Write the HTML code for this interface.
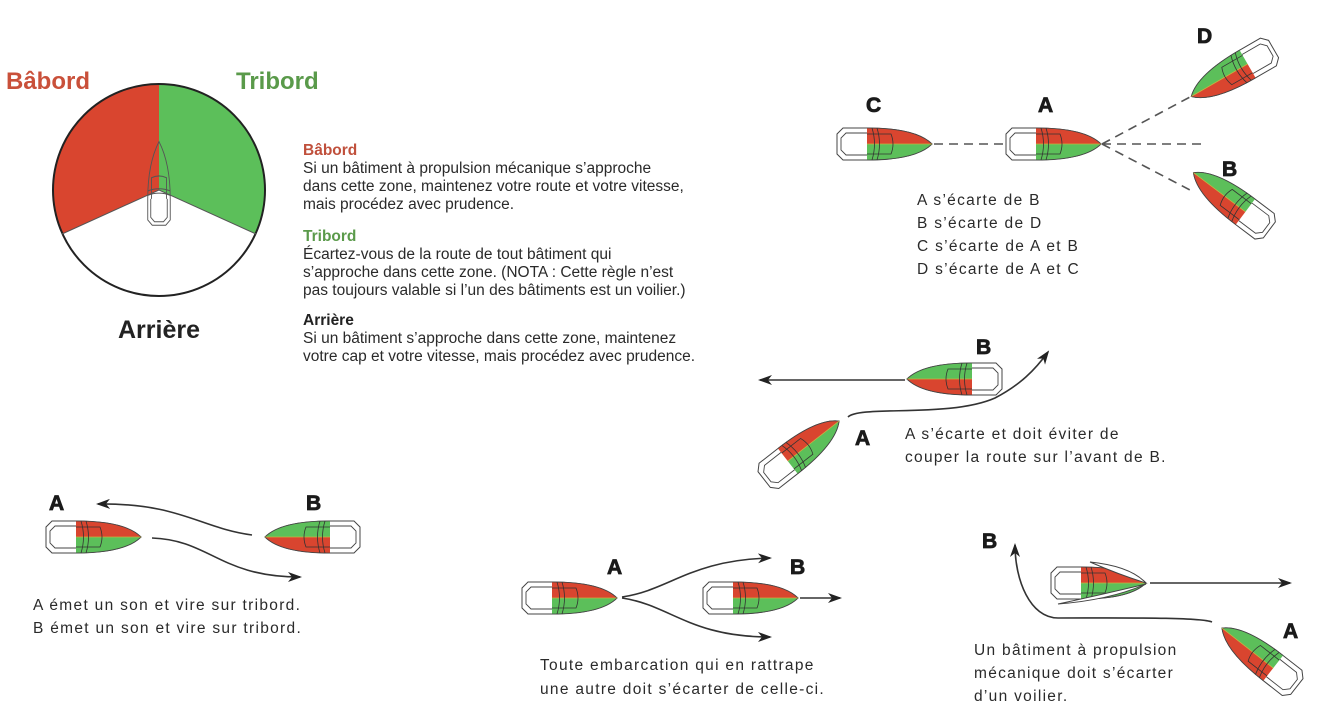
<!DOCTYPE html>
<html><head><meta charset="utf-8"><style>
html,body{margin:0;padding:0;background:#fff;}
svg{display:block;}
text{font-family:"Liberation Sans",Arial,sans-serif;}
.t{font-size:15.5px;fill:#2a2a2a;letter-spacing:0px;}
.c{font-size:15.5px;fill:#2a2a2a;letter-spacing:1.3px;}
.L{font-size:21px;font-weight:bold;fill:#1a1a1a;stroke:#1a1a1a;stroke-width:0.8;}
.ln{fill:none;stroke:#333;stroke-width:1.6;}
</style></head><body>
<svg width="1341" height="726" viewBox="0 0 1341 726" xmlns="http://www.w3.org/2000/svg">
<defs>
<marker id="ar" viewBox="0 0 14 10" refX="12" refY="5" markerWidth="14" markerHeight="10" markerUnits="userSpaceOnUse" orient="auto">
<path d="M0,0 L14,5 L0,10 L4,5 Z" fill="#222"/></marker>
<g id="boat">
<path d="M-48,-10 L-42,-16 L-18,-16 C20,-16 38,-9 47,0 C38,9 20,16 -18,16 L-42,16 L-48,10 Z" fill="#fff" stroke="#444" stroke-width="1"/>
<path d="M-18,-16 C20,-16 38,-9 47,0 L-18,0 Z" fill="#d9452f"/>
<path d="M-18,16 C20,16 38,9 47,0 L-18,0 Z" fill="#5cbf5a"/>
<path d="M-18,-16 C20,-16 38,-9 47,0 C38,9 20,16 -18,16" fill="none" stroke="#444" stroke-width="0.8"/>
<line x1="-18" y1="0" x2="47" y2="0" stroke="#c8b040" stroke-width="0.8"/>
<path d="M-18,-11 L-39,-11 L-44,-6 L-44,6 L-39,11 L-18,11" fill="none" stroke="#444" stroke-width="0.9"/>
<path d="M-13,-16 Q-8,0 -13,16 M-8,-16 Q-3,0 -8,16" fill="none" stroke="#333" stroke-width="0.8"/>
<path d="M-18,-10 L6,-10 Q10,0 6,10 L-18,10" fill="none" stroke="#333" stroke-width="0.8"/>
</g>
</defs>

<!-- circle -->
<path d="M159,190 L159,84 A106,106 0 0 0 62,234 Z" fill="#d9452f"/>
<path d="M159,190 L159,84 A106,106 0 0 1 256,234 Z" fill="#5cbf5a"/>
<circle cx="159" cy="190" r="106" fill="none" stroke="#222" stroke-width="2"/>
<path d="M62,234 L159,190 L256,234" fill="none" stroke="#555" stroke-width="1"/>
<g transform="translate(159,183) rotate(-90) scale(0.88,0.75)">
<path d="M-48,-9 L-42,-15 L-18,-15 Q22,-15 47,0 Q22,15 -18,15 L-42,15 L-48,9 Z" fill="none" stroke="#555" stroke-width="1.2"/>
<path d="M-18,-11 L-39,-11 L-44,-6 L-44,6 L-39,11 L-18,11" fill="none" stroke="#555" stroke-width="1.2"/>
<path d="M-14,-15 Q-9,0 -14,15 M-9,-15 Q-4,0 -9,15" fill="none" stroke="#555" stroke-width="1.2"/>
<path d="M-18,-10 L6,-10 Q10,0 6,10 L-18,10" fill="none" stroke="#555" stroke-width="1.2"/>
</g>
<text x="6" y="89" style="font-size:24px;font-weight:bold;fill:#c9503a">Bâbord</text>
<text x="236" y="89" style="font-size:24px;font-weight:bold;fill:#5a9a4a">Tribord</text>
<text x="159" y="338" text-anchor="middle" style="font-size:25px;font-weight:bold;fill:#222">Arrière</text>

<text x="303" y="155" style="font-size:15.5px;font-weight:bold;fill:#c0503c">Bâbord</text>
<text class="t" x="303" y="173">Si un bâtiment à propulsion mécanique s’approche</text>
<text class="t" x="303" y="191">dans cette zone, maintenez votre route et votre vitesse,</text>
<text class="t" x="303" y="209">mais procédez avec prudence.</text>
<text x="303" y="241" style="font-size:15.5px;font-weight:bold;fill:#5a9a4a">Tribord</text>
<text class="t" x="303" y="259">Écartez-vous de la route de tout bâtiment qui</text>
<text class="t" x="303" y="277">s’approche dans cette zone. (NOTA : Cette règle n’est</text>
<text class="t" x="303" y="295">pas toujours valable si l’un des bâtiments est un voilier.)</text>
<text x="303" y="325" style="font-size:15.5px;font-weight:bold;fill:#222">Arrière</text>
<text class="t" x="303" y="343">Si un bâtiment s’approche dans cette zone, maintenez</text>
<text class="t" x="303" y="361">votre cap et votre vitesse, mais procédez avec prudence.</text>

<!-- top right -->
<path d="M934,144 L1005,144 M1102,144 L1205,144 M1102,144 L1190,97 M1102,144 L1190,190" stroke="#555" stroke-width="1.6" stroke-dasharray="9,6" fill="none"/>
<use href="#boat" transform="translate(885,144)"/>
<use href="#boat" transform="translate(1054,144)"/>
<use href="#boat" transform="translate(1232,73) rotate(150)"/>
<use href="#boat" transform="translate(1231,201) rotate(217)"/>
<text class="L" x="866" y="112">C</text>
<text class="L" x="1038" y="112">A</text>
<text class="L" x="1197" y="43">D</text>
<text class="L" x="1222" y="176">B</text>
<text class="c" x="917" y="205">A s’écarte de B</text>
<text class="c" x="917" y="228">B s’écarte de D</text>
<text class="c" x="917" y="251">C s’écarte de A et B</text>
<text class="c" x="917" y="274">D s’écarte de A et C</text>

<!-- middle -->
<line class="ln" x1="905" y1="380" x2="760" y2="380" marker-end="url(#ar)"/>
<path class="ln" d="M848,417 C860,405 950,418 995,398 C1020,385 1035,370 1048,352" marker-end="url(#ar)"/>
<use href="#boat" transform="translate(954,379) rotate(180)"/>
<use href="#boat" transform="translate(802,450) rotate(-38)"/>
<text class="L" x="976" y="354">B</text>
<text class="L" x="855" y="445">A</text>
<text class="c" x="905" y="439">A s’écarte et doit éviter de</text>
<text class="c" x="905" y="462">couper la route sur l’avant de B.</text>

<!-- bottom left -->
<use href="#boat" transform="translate(94,537)"/>
<use href="#boat" transform="translate(312,537) rotate(180)"/>
<path class="ln" d="M252,535 C200,528 180,503 98,504" marker-end="url(#ar)"/>
<path class="ln" d="M152,538 C210,540 220,577 300,577" marker-end="url(#ar)"/>
<text class="L" x="49" y="510">A</text>
<text class="L" x="306" y="510">B</text>
<text class="c" x="33" y="610">A émet un son et vire sur tribord.</text>
<text class="c" x="33" y="633">B émet un son et vire sur tribord.</text>

<!-- bottom middle -->
<use href="#boat" transform="translate(570,598)"/>
<use href="#boat" transform="translate(751,598)"/>
<path class="ln" d="M622,597 C670,590 690,560 770,558" marker-end="url(#ar)"/>
<path class="ln" d="M622,598 C670,605 690,637 770,637" marker-end="url(#ar)"/>
<line class="ln" x1="800" y1="598" x2="840" y2="598" marker-end="url(#ar)"/>
<text class="L" x="607" y="574">A</text>
<text class="L" x="790" y="574">B</text>
<text class="c" x="540" y="670">Toute embarcation qui en rattrape</text>
<text class="c" x="540" y="694">une autre doit s’écarter de celle-ci.</text>

<!-- bottom right -->
<use href="#boat" transform="translate(1099,583)"/>
<path d="M1090,562 Q1130,566 1146,583 Q1120,575 1090,562 Z" fill="#fff" stroke="#444" stroke-width="1"/>
<path d="M1058,604 Q1100,595 1146,584 Q1110,600 1058,604 Z" fill="#fff" stroke="#444" stroke-width="1"/>
<line class="ln" x1="1150" y1="583" x2="1290" y2="583" marker-end="url(#ar)"/>
<use href="#boat" transform="translate(1259,657) rotate(218)"/>
<path class="ln" d="M1212,622 C1200,617 1120,618 1058,618 C1030,618 1015,580 1015,545" marker-end="url(#ar)"/>
<text class="L" x="982" y="548">B</text>
<text class="L" x="1283" y="638">A</text>
<text class="c" x="974" y="655">Un bâtiment à propulsion</text>
<text class="c" x="974" y="678">mécanique doit s’écarter</text>
<text class="c" x="974" y="701">d’un voilier.</text>
</svg>
</body></html>
